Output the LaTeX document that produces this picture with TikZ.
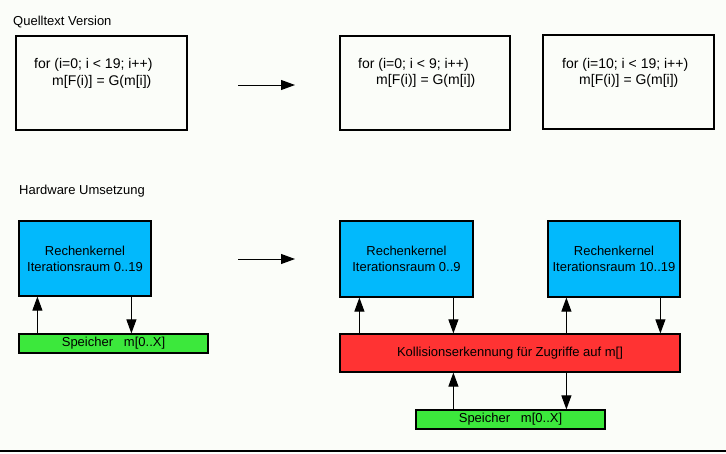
\documentclass[tikz,border=0pt]{standalone}
\usepackage{fontspec}
\setmainfont{Liberation Sans}
\usetikzlibrary{arrows.meta}
\definecolor{bg}{RGB}{251,253,249}
\definecolor{kblue}{RGB}{2,185,252}
\definecolor{kred}{RGB}{255,51,51}
\definecolor{kgreen}{RGB}{60,232,60}
\tikzset{
  box/.style={draw=black, line width=1.2pt, inner sep=0pt, rectangle},
  txt/.style={inner sep=0pt, anchor=base west, font=\fontsize{13}{15}\selectfont},
  code/.style={inner sep=0pt, anchor=base west, font=\fontsize{14}{16}\selectfont},
  lbl/.style={inner sep=0pt, align=center, font=\fontsize{13}{16}\selectfont},
  arr/.style={line width=1pt, -{Triangle[length=14pt,width=10pt]}},
}
\begin{document}
\begin{tikzpicture}[x=1pt,y=-1pt]
\fill[bg] (0,0) rectangle (726,453);
\useasboundingbox (0,0) rectangle (726,453);
\draw[line width=1.6pt] (0,451) -- (726,451);

% Quelltext
\node[txt] (t1) at (13,25) {Quelltext Version};
\node[box, minimum width=171pt, minimum height=94pt] (q1) at (101.5,83) {};
\node[box, minimum width=170pt, minimum height=94pt] (q2) at (425,83) {};
\node[box, minimum width=171pt, minimum height=94pt] (q3) at (628.5,82) {};
\node[code] (q1a) at (34,68) {for (i=0; i < 19; i++)};
\node[code] (q1b) at (52,85) {m[F(i)] = G(m[i])};
\node[code] (q2a) at (358,68) {for (i=0; i < 9; i++)};
\node[code] (q2b) at (376,84) {m[F(i)] = G(m[i])};
\node[code] (q3a) at (562,68) {for (i=10; i < 19; i++)};
\node[code] (q3b) at (579,84) {m[F(i)] = G(m[i])};
\coordinate (a1s) at (238,85);
\coordinate (a1e) at (295,85);
\draw[arr] (a1s) -- (a1e);

% Hardware
\node[txt] (t2) at (19,194) {Hardware Umsetzung};
\node[box, fill=kblue, minimum width=132pt, minimum height=75pt, lbl] (k1) at (85,258.5) {Rechenkernel\\Iterationsraum 0..19};
\node[box, fill=kgreen, minimum width=189pt, minimum height=19pt, lbl] (s1) at (113.5,343.5) {Speicher\ \ \ m[0..X]};
\draw[arr] ([xshift=19pt]s1.north west) -- ([xshift=19pt]k1.south west);
\draw[arr] ([xshift=113pt]k1.south west) -- ([xshift=113pt]s1.north west);

\coordinate (a2s) at (238,259);
\coordinate (a2e) at (295,259);
\draw[arr] (a2s) -- (a2e);

\node[box, fill=kblue, minimum width=133pt, minimum height=76pt, lbl] (k2) at (406.5,259) {Rechenkernel\\Iterationsraum 0..9};
\node[box, fill=kblue, minimum width=132pt, minimum height=76pt, lbl] (k3) at (614,259) {Rechenkernel\\Iterationsraum 10..19};
\node[box, fill=kred, minimum width=340pt, minimum height=38pt, lbl] (kol) at (510,353) {Kollisionserkennung für Zugriffe auf m[]};
\node[box, fill=kgreen, minimum width=189pt, minimum height=19pt, lbl] (s2) at (510.5,419.5) {Speicher\ \ \ m[0..X]};

\draw[arr] ([xshift=20pt]kol.north west) -- ([xshift=20pt]k2.south west);
\draw[arr] ([xshift=114pt]k2.south west) -- ([xshift=114pt]kol.north west);
\draw[arr] ([xshift=227pt]kol.north west) -- ([xshift=19pt]k3.south west);
\draw[arr] ([xshift=113pt]k3.south west) -- ([xshift=321pt]kol.north west);
\draw[arr] ([xshift=38pt]s2.north west) -- ([xshift=114pt]kol.south west);
\draw[arr] ([xshift=227pt]kol.south west) -- ([xshift=151pt]s2.north west);
\end{tikzpicture}
\end{document}
